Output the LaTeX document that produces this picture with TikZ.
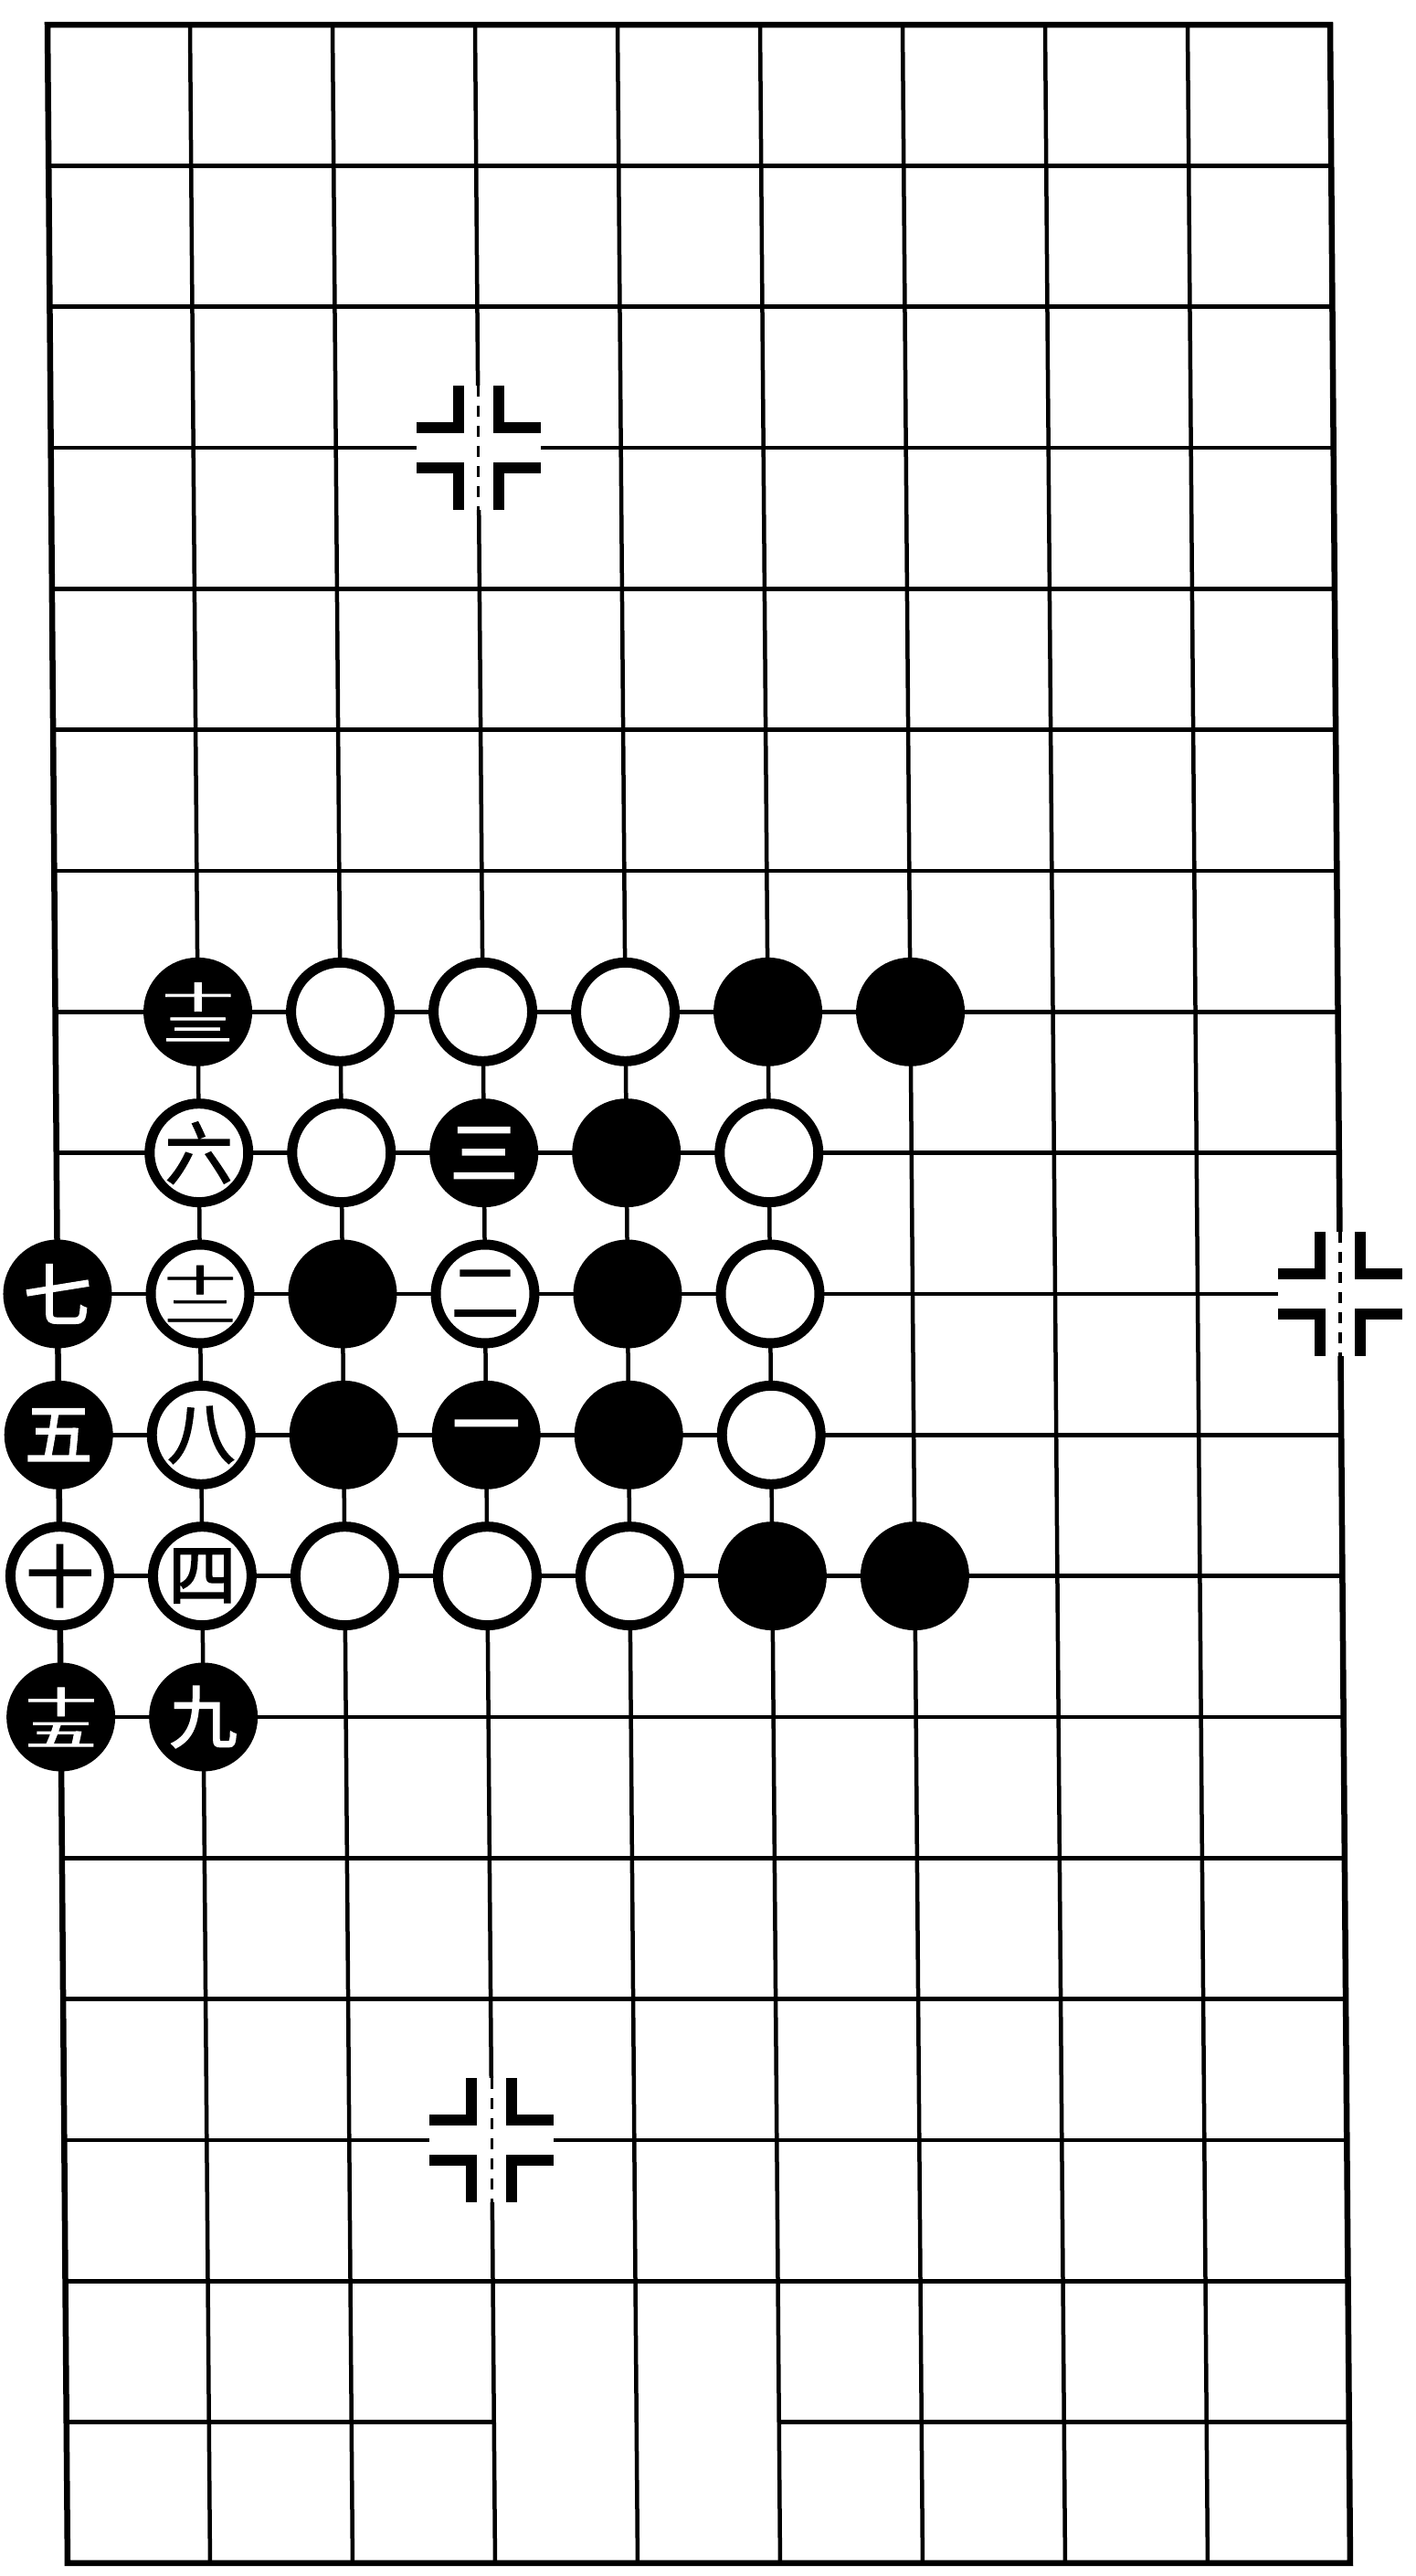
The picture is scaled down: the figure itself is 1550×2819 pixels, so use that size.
\documentclass[tikz,border=0pt]{standalone}
\usepackage{fontspec}
\usepackage{graphicx}
\newfontfamily\cjk[FakeBold=2.5]{Noto Sans CJK SC}
\newcommand\stk[2]{\vbox{\offinterlineskip\halign{\hfil##\hfil\cr\scalebox{1.05}[0.46]{#1}\cr\noalign{\kern 7pt}\scalebox{1.05}[0.46]{#2}\cr}}}
\newcommand\starmark[1]{%
  \fill[white] ([shift={(-68pt,-68pt)}]#1) rectangle ([shift={(68pt,68pt)}]#1);
  \draw[line width=3.5pt, dash pattern=on 12pt off 10pt] ([yshift=68pt]#1) -- ([yshift=-68pt]#1);
  \foreach \sx in {-1,1}{\foreach \sy in {-1,1}{%
    \draw[starbar] ([shift={(\sx*68pt,\sy*22pt)}]#1) -- ([shift={(\sx*22pt,\sy*22pt)}]#1) -- ([shift={(\sx*22pt,\sy*68pt)}]#1);}}}
\begin{document}
\begin{tikzpicture}[
  gridline/.style={line width=4.5pt},
  border/.style={line width=6.5pt},
  starbar/.style={line width=12pt},
  stone/.style={circle, minimum size=108pt, inner sep=0pt, line width=11pt, draw=black,
    font=\cjk\fontsize{74pt}{74pt}\selectfont},
  bstone/.style={stone, fill=black, text=white},
  wstone/.style={stone, fill=white, text=black}
]
\useasboundingbox (0,0) rectangle (1550pt,-2819pt);
\fill[white] (0,0) rectangle (1550pt,-2819pt);
\begin{scope}[shift={(52pt,-27pt)}, x={(156pt,0pt)}, y={(1.22pt,-154.33pt)}]
  % board lines
  \draw[border] (0,0) -- (9,0) -- (9,18) -- (0,18) -- cycle;
  \foreach \c in {1,...,8} \draw[gridline] (\c,0) -- (\c,18);
  \foreach \r in {1,...,16} \draw[gridline] (0,\r) -- (9,\r);
  \draw[gridline] (0,17) -- (3,17);
  \draw[gridline] (5,17) -- (9,17);
  % star points
  \coordinate (starA) at (3,3);
  \coordinate (starB) at (9,9);
  \coordinate (starC) at (3,15);
  \starmark{starA}
  \starmark{starB}
  \starmark{starC}
  % row 7
  \node[bstone] (s1-7) at (1,7) {\stk{十}{三}};
  \node[wstone] (s2-7) at (2,7) {};
  \node[wstone] (s3-7) at (3,7) {};
  \node[wstone] (s4-7) at (4,7) {};
  \node[bstone] (s5-7) at (5,7) {};
  \node[bstone] (s6-7) at (6,7) {};
  % row 8
  \node[wstone] (s1-8) at (1,8) {六};
  \node[wstone] (s2-8) at (2,8) {};
  \node[bstone] (s3-8) at (3,8) {三};
  \node[bstone] (s4-8) at (4,8) {};
  \node[wstone] (s5-8) at (5,8) {};
  % row 9
  \node[bstone] (s0-9) at (0,9) {七};
  \node[wstone] (s1-9) at (1,9) {\stk{十}{二}};
  \node[bstone] (s2-9) at (2,9) {};
  \node[wstone] (s3-9) at (3,9) {二};
  \node[bstone] (s4-9) at (4,9) {};
  \node[wstone] (s5-9) at (5,9) {};
  % row 10
  \node[bstone] (s0-10) at (0,10) {五};
  \node[wstone] (s1-10) at (1,10) {八};
  \node[bstone] (s2-10) at (2,10) {};
  \node[bstone] (s3-10) at (3,10) {一};
  \node[bstone] (s4-10) at (4,10) {};
  \node[wstone] (s5-10) at (5,10) {};
  % row 11
  \node[wstone] (s0-11) at (0,11) {十};
  \node[wstone] (s1-11) at (1,11) {四};
  \node[wstone] (s2-11) at (2,11) {};
  \node[wstone] (s3-11) at (3,11) {};
  \node[wstone] (s4-11) at (4,11) {};
  \node[bstone] (s5-11) at (5,11) {};
  \node[bstone] (s6-11) at (6,11) {};
  % row 12
  \node[bstone] (s0-12) at (0,12) {\stk{十}{五}};
  \node[bstone] (s1-12) at (1,12) {九};
\end{scope}
\end{tikzpicture}
\end{document}
